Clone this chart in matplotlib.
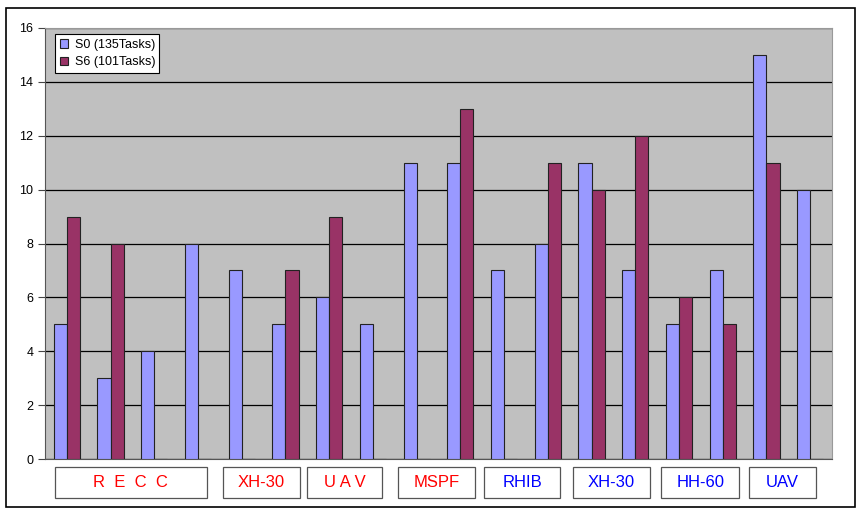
import numpy as np
import matplotlib.pyplot as plt
from matplotlib.patches import Rectangle
import matplotlib.transforms as mtransforms

plt.rcParams['font.family'] = ['Liberation Sans', 'DejaVu Sans']

# values per bar group
s0 = [5, 3, 4, 8, 7, 5, 6, 5, 11, 11, 7, 8, 11, 7, 5, 7, 15, 10]
s6 = [9, 8, 0, 0, 0, 7, 9, 0, 0, 13, 0, 11, 10, 12, 6, 5, 11, 0]
series_names = ["S0 (135Tasks)", "S6 (101Tasks)"]

# category boxes under the axis (extent in group units) and their colour
cat_labels = ["R  E  C  C", "XH-30", "U A V", "MSPF", "RHIB", "XH-30", "HH-60", "UAV"]
box_left = [0.23, 4.07, 6.0, 8.08, 10.04, 12.08, 14.1, 16.1]
box_right = [3.7, 5.84, 7.7, 9.84, 11.78, 13.84, 15.88, 17.63]
cat_colors = ["#FF0000"] * 4 + ["#0000FF"] * 4

W, H = 866, 512
fig = plt.figure(figsize=(W / 100, H / 100), dpi=100)
fig.patches.append(Rectangle((6 / W, 1 - 507 / H), 849 / W, 499 / H,
                             transform=fig.transFigure, fill=False,
                             edgecolor="black", linewidth=1.2))

ax = fig.add_axes([45 / W, 1 - 459 / H, 787 / W, 431 / H])
ax.set_facecolor("#C0C0C0")

x = np.arange(len(s0))
bw = 0.3
ax.bar(x + 0.5 - bw / 2, s0, bw, color="#9999FF", edgecolor="#222222",
       linewidth=0.8, label=series_names[0], zorder=3)
ax.bar(x + 0.5 + bw / 2, s6, bw, color="#993366", edgecolor="#222222",
       linewidth=0.8, label=series_names[1], zorder=3)

ax.set_xlim(0, len(s0))
ax.set_ylim(0, 16)
ax.set_yticks(range(0, 17, 2))
ax.set_xticks([])
ax.tick_params(axis="y", labelsize=9, length=5, width=0.8, color="#444444")
ax.yaxis.grid(True, color="black", linewidth=0.9, zorder=0)
ax.set_axisbelow(True)
for side in ["top", "right"]:
    ax.spines[side].set_color("#999999")
ax.spines["left"].set_color("#555555")
ax.spines["bottom"].set_color("#555555")

leg = ax.legend(loc="upper left", fontsize=9, frameon=True, fancybox=False,
                edgecolor="black", framealpha=1, handlelength=0.7,
                handleheight=0.7, handletextpad=0.5, borderpad=0.35,
                labelspacing=0.45, bbox_to_anchor=(0.005, 1.0))
leg.get_frame().set_linewidth(0.8)

trans = mtransforms.blended_transform_factory(ax.transData, ax.transAxes)
for lab, x0, x1, c in zip(cat_labels, box_left, box_right, cat_colors):
    ax.add_patch(Rectangle((x0, -0.0905), x1 - x0, 0.072, transform=trans,
                           facecolor="white", edgecolor="#555555",
                           linewidth=0.9, clip_on=False))
    ax.text((x0 + x1) / 2, -0.0545, lab, transform=trans, ha="center",
            va="center", color=c, fontsize=12)

fig.savefig("out.png", dpi=100)
